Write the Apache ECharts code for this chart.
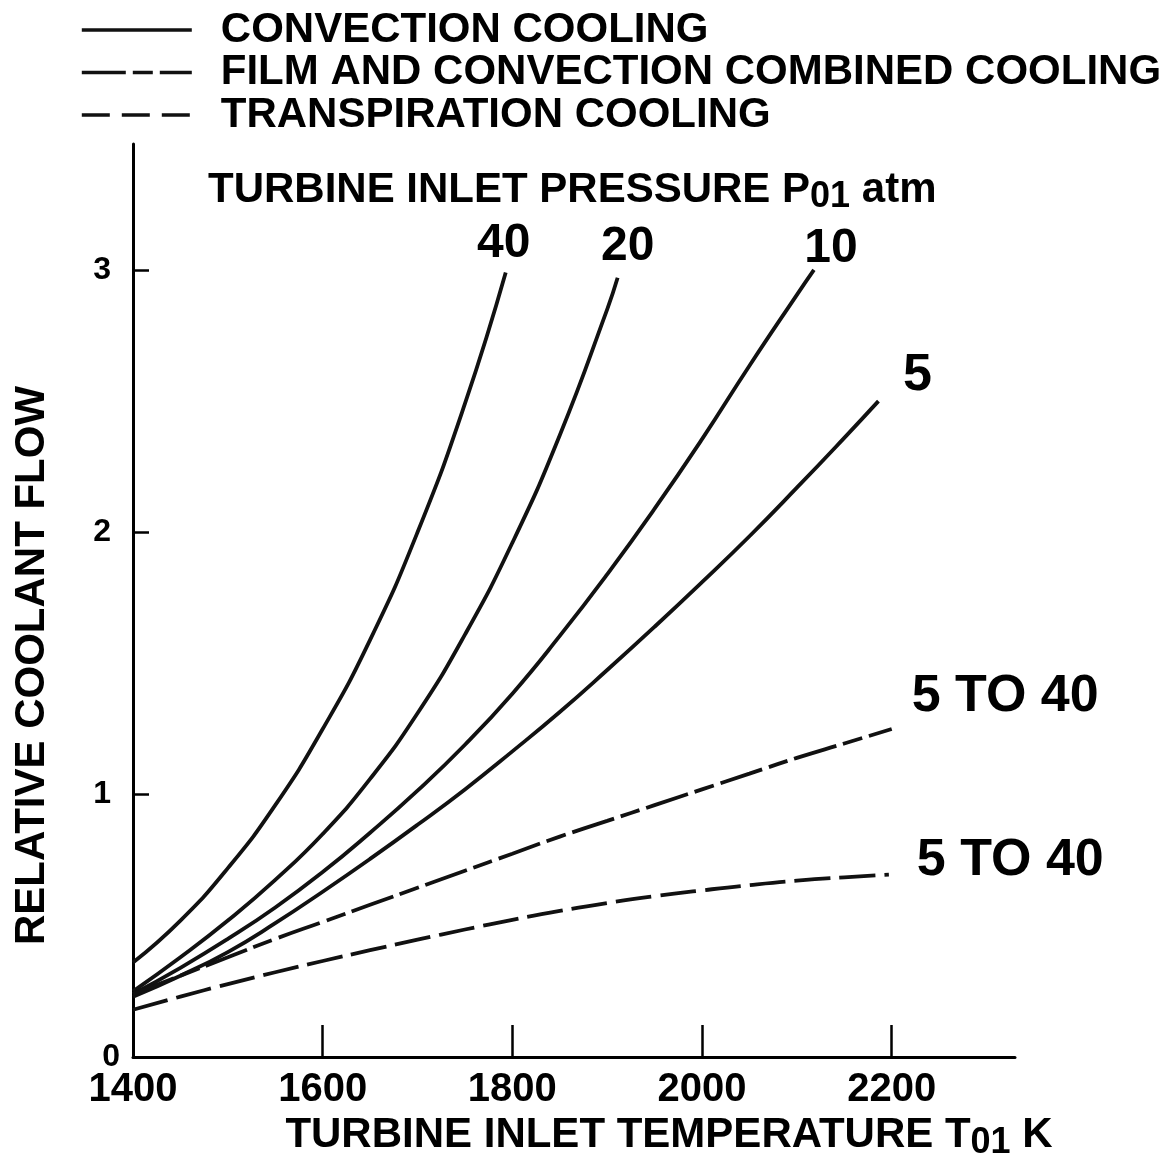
<!DOCTYPE html>
<html>
<head>
<meta charset="utf-8">
<script src="https://cdn.jsdelivr.net/npm/echarts@6/dist/echarts.min.js"></script>
<style>
  html, body { margin: 0; padding: 0; background: #fff; }
  #chart { width: 1176px; height: 1158px; }
</style>
</head>
<body>
<div id="chart"></div>
<script>
const FONT = "'Liberation Sans', Arial, Helvetica, sans-serif";
const INK = '#111';

// Legend entries (cooling methods)
const methods = ['CONVECTION COOLING', 'FILM AND CONVECTION COMBINED COOLING', 'TRANSPIRATION COOLING'];

// Convection cooling, one curve per turbine inlet pressure P01 (atm)
const temp40 = [1400, 1450, 1500, 1550, 1600, 1650, 1700, 1750, 1793];
const flow40 = [0.36, 0.52, 0.72, 0.96, 1.25, 1.59, 2.00, 2.49, 2.99];

const temp20 = [1400, 1450, 1500, 1550, 1600, 1650, 1700, 1750, 1800, 1850, 1900, 1911];
const flow20 = [0.25, 0.38, 0.52, 0.675, 0.85, 1.06, 1.31, 1.61, 1.96, 2.37, 2.85, 2.97];

const temp10 = [1400, 1450, 1500, 1550, 1600, 1650, 1700, 1750, 1800, 1850, 1900, 1950, 2000, 2050, 2100, 2118];
const flow10 = [0.24, 0.34, 0.45, 0.57, 0.705, 0.855, 1.015, 1.19, 1.385, 1.605, 1.84, 2.09, 2.355, 2.635, 2.905, 3.00];

const temp5 = [1400, 1450, 1500, 1550, 1600, 1650, 1700, 1750, 1800, 1850, 1900, 1950, 2000, 2050, 2100, 2150, 2186];
const flow5 = [0.23, 0.31, 0.40, 0.51, 0.63, 0.755, 0.885, 1.02, 1.165, 1.315, 1.475, 1.64, 1.81, 1.985, 2.17, 2.36, 2.50];

// Film and convection combined cooling (5 to 40 atm)
const tempFilm = [1400, 1450, 1500, 1550, 1600, 1650, 1700, 1750, 1800, 1850, 1900, 1950, 2000, 2050, 2100, 2150, 2200];
const flowFilm = [0.24, 0.31, 0.38, 0.45, 0.515, 0.58, 0.645, 0.71, 0.775, 0.84, 0.90, 0.96, 1.02, 1.08, 1.14, 1.195, 1.25];

// Transpiration cooling (5 to 40 atm)
const tempTrans = [1400, 1450, 1500, 1550, 1600, 1650, 1700, 1750, 1800, 1850, 1900, 1950, 2000, 2050, 2100, 2150, 2197];
const flowTrans = [0.18, 0.23, 0.278, 0.323, 0.366, 0.407, 0.447, 0.486, 0.523, 0.557, 0.587, 0.613, 0.635, 0.655, 0.672, 0.685, 0.695];

// Axis ticks
const xTicks = [1400, 1600, 1800, 2000, 2200];
const yTicks = [0, 1, 2, 3];

const pairs = (t, f) => t.map((x, i) => [x, f[i]]);

// Text tag anchored at the last point of a curve
function endTag(text, t, f, align, dx, dy, size) {
  return {
    symbol: 'circle', symbolSize: 1, silent: true, animation: false,
    itemStyle: { color: 'rgba(0,0,0,0)' },
    label: {
      show: true, position: 'inside', formatter: text,
      align: align, verticalAlign: 'middle', offset: [dx, dy],
      fontSize: size, fontWeight: 'bold', color: '#000', fontFamily: FONT
    },
    data: [{ coord: [t[t.length - 1], f[f.length - 1]] }]
  };
}

const solid = { color: INK, width: 3.8, type: 'solid' };
const filmDash = { color: INK, width: 3.8, type: [44, 7, 20, 7] };
const transDash = { color: INK, width: 3.8, type: [36, 9] };

function curve(name, t, f, style, tag) {
  return {
    name: name, type: 'line', data: pairs(t, f), smooth: 0.5,
    showSymbol: false, lineStyle: style, itemStyle: { color: INK },
    emphasis: { disabled: true }, markPoint: tag, z: 3
  };
}

const subRich = {
  a: { fontSize: 42, fontWeight: 'bold', color: '#000', fontFamily: FONT, lineHeight: 50 },
  s: { fontSize: 36, fontWeight: 'bold', color: '#000', fontFamily: FONT, lineHeight: 28, verticalAlign: 'bottom' }
};

const chart = echarts.init(document.getElementById('chart'), null, { renderer: 'canvas' });

chart.setOption({
  animation: false,
  backgroundColor: '#fff',
  textStyle: { fontFamily: FONT },
  title: {
    left: 203, top: 160,
    text: '{a|TURBINE INLET PRESSURE P}{s|01}{a| atm}',
    textStyle: { fontSize: 42, fontWeight: 'bold', color: '#000', fontFamily: FONT, rich: subRich }
  },
  legend: {
    orient: 'vertical', left: 80, top: 9, padding: 0,
    itemWidth: 110, itemHeight: 4, itemGap: 0.5,
    selectedMode: false,
    textStyle: { fontSize: 42, fontWeight: 'bold', color: '#000', fontFamily: FONT, padding: [0, 0, 0, 24] },
    lineStyle: { width: 3.6 },
    itemStyle: { opacity: 0 },
    data: [
      { name: methods[0] },
      { name: methods[1] },
      { name: methods[2], lineStyle: { type: [28, 12], width: 3.6 } }
    ]
  },
  grid: { left: 133, right: 161, top: 144, bottom: 101, containLabel: false, outerBoundsMode: 'none' },
  xAxis: {
    type: 'value', min: 1400, max: 2330,
    axisLine: { show: true, onZero: false, lineStyle: { color: '#000', width: 3 } },
    axisTick: { show: true, inside: true, length: 32, customValues: [1600, 1800, 2000, 2200], lineStyle: { color: '#000', width: 2.5 } },
    axisLabel: {
      customValues: xTicks, formatter: v => String(v),
      fontSize: 40, fontWeight: 'bold', color: '#000', fontFamily: FONT, margin: 13
    },
    splitLine: { show: false },
    name: '{a|TURBINE INLET TEMPERATURE T}{s|01}{a| K}',
    nameLocation: 'middle', nameGap: 52,
    nameTextStyle: { fontSize: 42, fontWeight: 'bold', color: '#000', fontFamily: FONT, padding: [0, 0, 0, 190], rich: subRich }
  },
  yAxis: {
    type: 'value', min: 0, max: 3.48,
    axisLine: { show: true, onZero: false, lineStyle: { color: '#000', width: 3 } },
    axisTick: { show: true, inside: true, length: 16, customValues: [1, 2, 3], lineStyle: { color: '#000', width: 2.5 } },
    axisLabel: {
      show: true, customValues: yTicks, margin: 13,
      fontSize: 32, fontWeight: 'bold', color: '#000', fontFamily: FONT,
      // the zero sits close to the corner; the other values keep a wider gap
      formatter: v => (v === 0 ? '0' : v + ' ')
    },
    splitLine: { show: false },
    name: 'RELATIVE COOLANT FLOW',
    nameLocation: 'middle', nameRotate: 90, nameGap: 80,
    nameTextStyle: { fontSize: 42, fontWeight: 'bold', color: '#000', fontFamily: FONT, padding: [0, 130, 0, 0] }
  },
  series: [
    curve(methods[0], temp40, flow40, solid, endTag('40', temp40, flow40, 'center', -2, -29, 48)),
    curve(methods[0], temp20, flow20, solid, endTag('20', temp20, flow20, 'center', 10, -31, 48)),
    curve(methods[0], temp10, flow10, solid, endTag('10', temp10, flow10, 'center', 17, -21, 48)),
    curve(methods[0], temp5, flow5, solid, endTag('5', temp5, flow5, 'center', 39, -25, 52)),
    curve(methods[1], tempFilm, flowFilm, filmDash, endTag('5 TO 40', tempFilm, flowFilm, 'left', 20, -32, 52)),
    curve(methods[2], tempTrans, flowTrans, transDash, endTag('5 TO 40', tempTrans, flowTrans, 'left', 28, -14, 52))
  ]
});
</script>
</body>
</html>
